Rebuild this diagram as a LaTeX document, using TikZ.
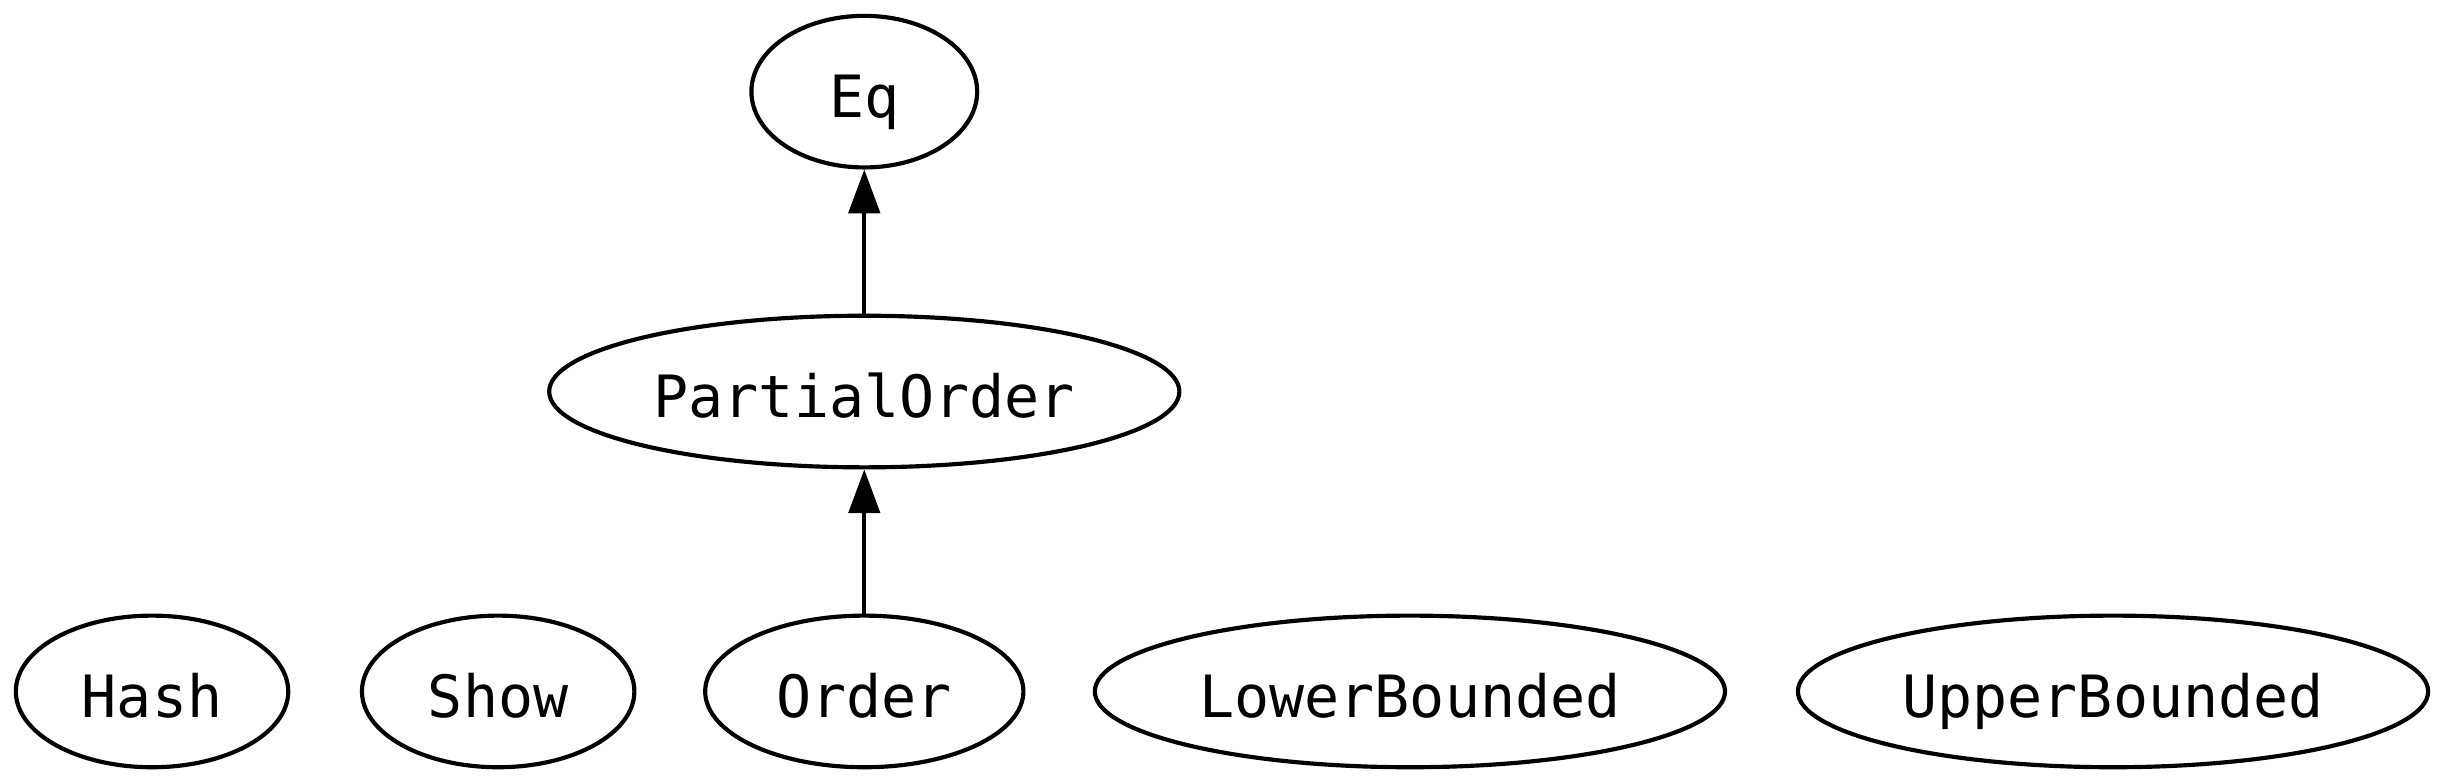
\documentclass[tikz,border=0pt]{standalone}
\usepackage{fontspec}
\setmonofont{DejaVu Sans Mono}
\usepackage{tikz}
\usetikzlibrary{positioning,arrows.meta,shapes.geometric}

\begin{document}
\begin{tikzpicture}[x=1pt, y=1pt, ->, >={Triangle[length=10.5pt, width=7.5pt]}, main/.style = {ellipse, draw, line width=1pt, fill=white, minimum height=36.4pt, inner sep=0pt, text height=13.8pt, text depth=1.2pt, font=\ttfamily\fontsize{14}{16}\selectfont}, wide/.style={main, minimum width=151.3pt}, every edge/.append style={line width=1pt}]

\useasboundingbox (0,0) rectangle (587,188);

\filldraw[black] (207.5,166) node[main, minimum width=54.2pt] (eq) {Eq};
\filldraw[black] (207.5,94) node[wide] (po) {PartialOrder};
\filldraw[black] (36.5,22) node[main, minimum width=65.4pt] (hash) {Hash};
\filldraw[black] (119.6,22) node[main, minimum width=65.4pt] (show) {Show};
\filldraw[black] (207.5,22) node[main, minimum width=76.4pt] (ord) {Order};
\filldraw[black] (338.5,22) node[wide] (lb) {LowerBounded};
\filldraw[black] (507.3,22) node[wide] (ub) {UpperBounded};

\path
 (ord) edge (po)
 (po) edge (eq);
\end{tikzpicture}
\end{document}
